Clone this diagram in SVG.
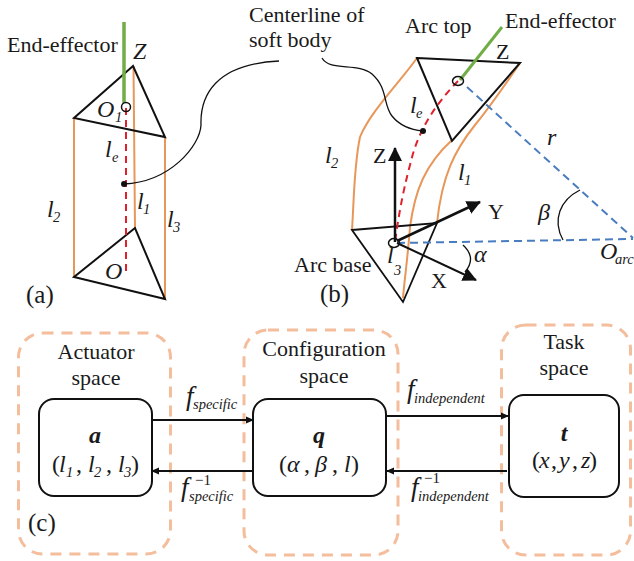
<svg xmlns="http://www.w3.org/2000/svg" width="634" height="561" viewBox="0 0 634 561">
<style>
text{font-family:"Liberation Serif","Times New Roman",serif;font-size:22px;fill:#1a1a1a}
.s{font-style:italic;font-size:14.5px}
.m{font-style:italic;font-size:24px}
.b{font-weight:bold;font-style:italic;font-size:24px}
.f{font-style:italic;font-size:27px}
.p{font-size:24px}
.n{font-size:25px}
.e{font-size:15px}
.mid{text-anchor:middle}
.k{fill:none;stroke:#111;stroke-width:2}
.o{fill:none;stroke:#e8975a;stroke-width:2}
.g{fill:none;stroke:#70ad47;stroke-width:3.500}
.r{fill:none;stroke:#e0202c;stroke-width:2;stroke-dasharray:7 5}
.bl{fill:none;stroke:#4a7cc0;stroke-width:2;stroke-dasharray:8 5}
.c{fill:none;stroke:#111;stroke-width:1.300}
.sp{fill:none;stroke:#f4bd9c;stroke-width:3;stroke-dasharray:11 8}
.box{fill:#fff;stroke:#111;stroke-width:2}
.a{fill:none;stroke:#111;stroke-width:2.500}
.t{fill:none;stroke:#111;stroke-width:2}
</style>
<defs>
<marker id="h" markerWidth="8" markerHeight="8" refX="7" refY="4" orient="auto" markerUnits="userSpaceOnUse"><path d="M0,0.500 L8,4 L0,7.500z" fill="#111"/></marker>
<marker id="H" markerWidth="15" markerHeight="14" refX="13" refY="7" orient="auto" markerUnits="userSpaceOnUse"><path d="M0,0 L14,7 L0,14z" fill="#111"/></marker>
</defs>

<g id="panel-a">
<path class="o" d="M74,118V277M165,137V299M133.500,66L135,228"/>
<path class="k" d="M133,66L74,118L165,137Z"/>
<path class="k" d="M135,228L74,277L165,299Z"/>
<path class="r" d="M126,108V273"/>
<path class="g" d="M124,22V103"/>
<circle cx="126" cy="107" r="4.500" fill="none" stroke="#111" stroke-width="1.500"/>
<circle cx="124" cy="184" r="3" fill="#111"/>
<path class="c" d="M124,184C170,182 200,146 201,125C200,96 215,64 279,61"/>
<text x="7" y="52">End-effector</text>
<text class="m" x="133" y="59">Z</text>
<text class="m" x="97" y="117">O</text><text class="s" x="115" y="122">1</text>
<text class="m" x="105" y="157">l</text><text class="s" x="112" y="162">e</text>
<text class="m" x="47" y="217">l</text><text class="s" x="53" y="222">2</text>
<text class="m" x="137" y="209">l</text><text class="s" x="143" y="214">1</text>
<text class="m" x="167" y="227">l</text><text class="s" x="173" y="232">3</text>
<text class="m" x="105" y="279">O</text>
<text class="n" x="26" y="303">(a)</text>
</g>

<g id="label-centerline">
<text x="249" y="22">Centerline of</text>
<text x="249" y="47">soft body</text>
</g>

<g id="panel-b">
<path class="o" d="M417,58C400,82 370,112 360,137C354,165 354,200 352,230"/>
<path class="o" d="M520,63C505,85 490,107 475,125C455,150 442,175 437,223"/>
<path class="o" d="M452,140C425,165 415,190 410,227C408,255 405,275 403,298"/>
<path class="k" d="M417,58L520,63L452,141Z"/>
<path class="k" style="stroke-width:1.800" d="M352,230L437,223L403,302Z"/>
<path class="r" d="M458,81C435,105 418,130 410,165C402,195 398,220 395,242"/>
<path class="bl" d="M467,87L633,238M397,243L633,239"/>
<path class="g" style="stroke-width:3" d="M502,27L460,80"/>
<ellipse cx="458" cy="81" rx="5.500" ry="4.500" fill="none" stroke="#111" stroke-width="1.500"/>
<ellipse cx="394" cy="243" rx="5.500" ry="4.500" fill="none" stroke="#111" stroke-width="1.500"/>
<circle cx="423" cy="131" r="3" fill="#111"/>
<path class="c" d="M322,58C330,72 358,62 372,74C388,88 383,105 392,116C400,126 412,130 423,131"/>
<path class="a" marker-end="url(#H)" d="M395,242V148"/>
<path class="a" marker-end="url(#H)" d="M397,241L480,202"/>
<path class="t" marker-end="url(#H)" d="M397,243L476,280"/>
<path class="c" d="M463,245Q477,258 465,272"/>
<path class="c" d="M563,240C552,220 560,200 580,190"/>
<text x="405" y="33">Arc top</text>
<text x="505" y="28">End-effector</text>
<text x="496" y="59">Z</text>
<text class="m" x="410" y="113">l</text><text class="s" x="416" y="118">e</text>
<text class="m" x="325" y="163">l</text><text class="s" x="331" y="168">2</text>
<text x="373" y="163">Z</text>
<text class="m" x="458" y="180">l</text><text class="s" x="464" y="185">1</text>
<text class="m" x="547" y="145">r</text>
<text x="488" y="219">Y</text>
<text class="m" x="538" y="220">β</text>
<text x="294" y="272">Arc base</text>
<text class="m" x="387" y="263">l</text><text class="s" x="394" y="275">3</text>
<text class="m" x="474" y="262">α</text>
<text x="431" y="288">X</text>
<text class="m" x="600" y="259">O</text><text class="s" x="615" y="264">arc</text>
<text class="n" x="320" y="302">(b)</text>
</g>

<g id="actuator-space">
<rect class="sp" x="18.500" y="333" width="152" height="221" rx="24"/>
<text class="mid" x="96" y="359">Actuator</text>
<text class="mid" x="96" y="385">space</text>
<rect class="box" x="39" y="399" width="113" height="97" rx="15"/>
<text class="b mid" x="95" y="443">a</text>
<text class="p" x="52" y="472">(</text><text class="m" x="59" y="472">l</text><text class="s" x="66" y="477">1</text>
<text class="p" x="76" y="472">,</text><text class="m" x="88" y="472">l</text><text class="s" x="94" y="477">2</text>
<text class="p" x="106" y="472">,</text><text class="m" x="118" y="472">l</text><text class="s" x="124" y="477">3</text><text class="p" x="131" y="472">)</text>
<text class="n" x="28" y="531">(c)</text>
</g>

<g id="configuration-space">
<rect class="sp" x="244" y="330" width="154" height="225" rx="24"/>
<text class="mid" x="324" y="356">Configuration</text>
<text class="mid" x="324" y="383">space</text>
<rect class="box" x="253" y="399" width="133" height="97" rx="15"/>
<text class="b mid" x="319" y="443">q</text>
<text class="p" x="279" y="472">(</text><text class="m" x="287" y="472">α</text><text class="p" x="304" y="472">,</text><text class="m" x="315" y="472">β</text><text class="p" x="332" y="472">,</text><text class="m" x="344" y="472">l</text><text class="p" x="351" y="472">)</text>
</g>

<g id="task-space">
<rect class="sp" x="501.500" y="325" width="129" height="230" rx="24"/>
<text class="mid" x="564" y="349">Task</text>
<text class="mid" x="564" y="375">space</text>
<rect class="box" x="509" y="395" width="110" height="102" rx="15"/>
<text class="b mid" x="564" y="441">t</text>
<text class="p" x="532" y="468">(</text><text class="m" x="539" y="468">x</text><text class="p" x="551" y="468">,</text><text class="m" x="559" y="468">y</text><text class="p" x="572" y="468">,</text><text class="m" x="581" y="468">z</text><text class="p" x="589" y="468">)</text>
</g>

<g id="connectors">
<path class="t" marker-end="url(#h)" d="M152,420H253"/>
<path class="t" marker-end="url(#h)" d="M253,471H152"/>
<path class="t" marker-end="url(#h)" d="M386,416H508"/>
<path class="t" marker-end="url(#h)" d="M507,471H387"/>
</g>

<g id="connector-labels">
<text class="f" x="186" y="405">f</text><text class="s" x="193" y="409">specific</text>
<text class="f" x="181" y="496">f</text><text class="s" x="189" y="501">specific</text><text class="e" x="195" y="485">−1</text>
<text class="f" x="407" y="398">f</text><text class="s" x="414" y="403">independent</text>
<text class="f" x="411" y="496">f</text><text class="s" x="418" y="501">independent</text><text class="e" x="424" y="483">−1</text>
</g>
</svg>
